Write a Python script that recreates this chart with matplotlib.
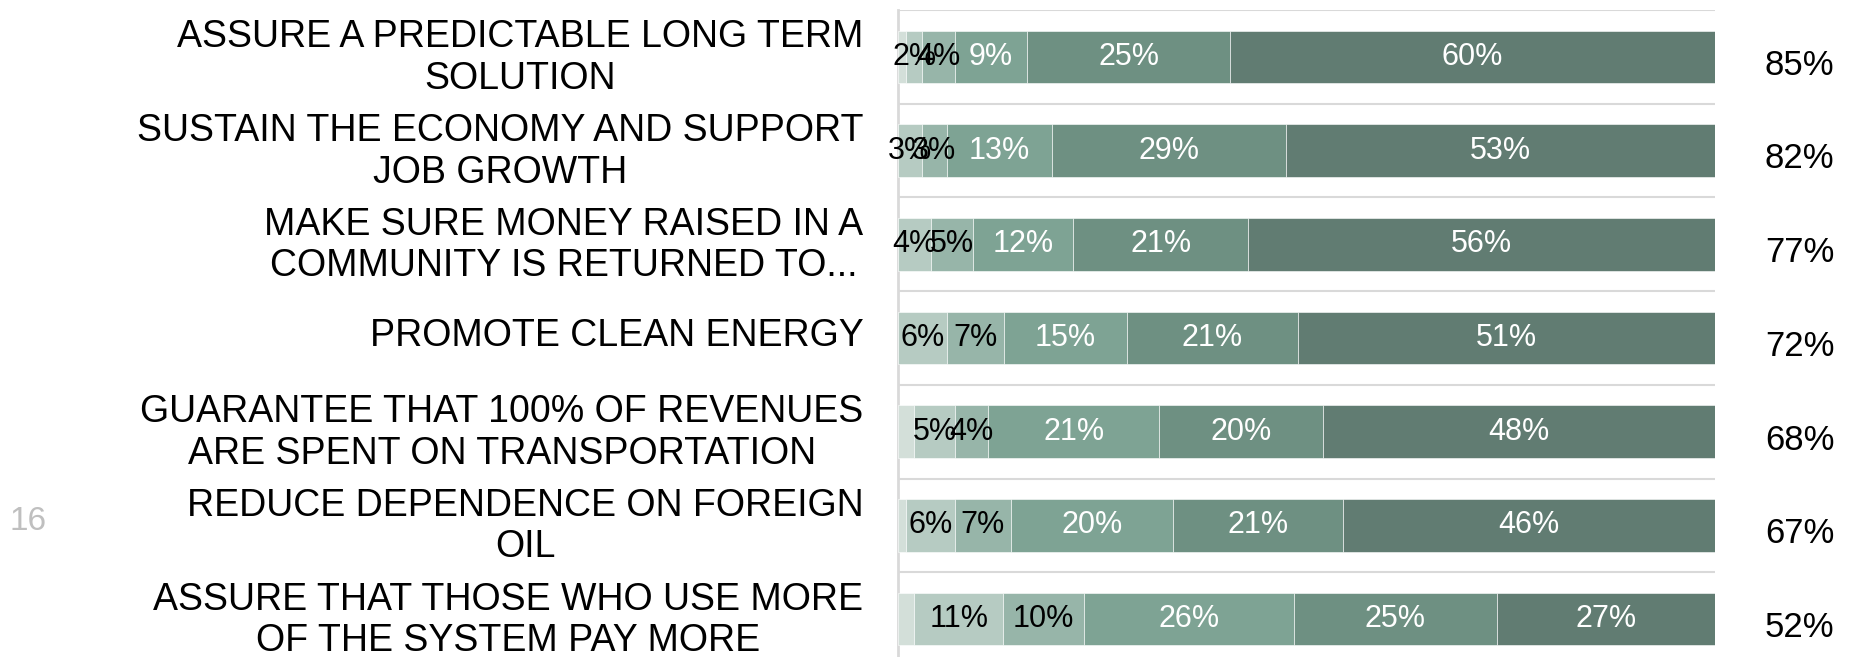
import numpy as np
import matplotlib
matplotlib.use("Agg")
import matplotlib.pyplot as plt
from matplotlib.transforms import ScaledTranslation

plt.rcParams['font.family'] = ['Liberation Sans', 'DejaVu Sans']

categories = [
    "ASSURE A PREDICTABLE LONG TERM\nSOLUTION",
    "SUSTAIN THE ECONOMY AND SUPPORT\nJOB GROWTH",
    "MAKE SURE MONEY RAISED IN A\nCOMMUNITY IS RETURNED TO...",
    "PROMOTE CLEAN ENERGY",
    "GUARANTEE THAT 100% OF REVENUES\nARE SPENT ON TRANSPORTATION",
    "REDUCE DEPENDENCE ON FOREIGN\nOIL",
    "ASSURE THAT THOSE WHO USE MORE\nOF THE SYSTEM PAY MORE",
]

# six response levels, lightest to darkest (first one has no label)
s_dk = [1, 0, 0, 0, 2, 1, 2]
s_1 = [2, 3, 4, 6, 5, 6, 11]
s_2 = [4, 3, 5, 7, 4, 7, 10]
s_3 = [9, 13, 12, 15, 21, 20, 26]
s_4 = [25, 29, 21, 21, 20, 21, 25]
s_5 = [60, 53, 56, 51, 48, 46, 27]

series = [s_dk, s_1, s_2, s_3, s_4, s_5]
colors = ['#d3dfd9', '#b6cbc2', '#97b5a9', '#7ea394', '#6e9082', '#617c72']
label_colors = [None, 'black', 'black', 'white', 'white', 'white']

data = np.array(series, dtype=float)
totals = data.sum(axis=0)
shares = data / totals * 100  # 100% stacked

fig = plt.figure(figsize=(18.55, 6.57), dpi=100)
ax = fig.add_axes([0.4841, -0.0137, 0.4404, 0.9985])

y = np.arange(len(categories))
left = np.zeros(len(categories))
for i, vals in enumerate(shares):
    ax.barh(y, vals, left=left, height=0.56, color=colors[i],
            edgecolor='white', linewidth=0.4, zorder=3)
    if label_colors[i] is not None:
        for j, v in enumerate(vals):
            ax.text(left[j] + v / 2, y[j], f"{int(series[i][j])}%",
                    ha='center', va='center', fontsize=22,
                    color=label_colors[i], zorder=4)
    left = left + vals

# top-2 totals on the right
for j in range(len(categories)):
    top2 = s_4[j] + s_5[j]
    ax.annotate(f"{top2}%", xy=(1, y[j]), xycoords=('axes fraction', 'data'),
                xytext=(36, -6), textcoords='offset points',
                ha='left', va='center', fontsize=25, color='black')

ax.set_xlim(0, 100)
ax.set_ylim(len(categories) - 0.5, -0.5)
ax.set_xticks([])
ax.set_yticks(y)
ax.set_yticklabels(categories, fontsize=27, ma='center')
ax.tick_params(axis='y', length=0, pad=25)
# nudge the category labels up a little
shift = ScaledTranslation(0, 4 / 72, fig.dpi_scale_trans)
for lbl in ax.get_yticklabels():
    lbl.set_transform(lbl.get_transform() + shift)
ax.set_yticks(np.arange(-0.5, len(categories), 1), minor=True)
ax.tick_params(axis='y', which='minor', length=0)
ax.grid(axis='y', which='minor', color='#d9d9d9', linewidth=1.5, zorder=0)
ax.grid(axis='y', which='major', visible=False)

for side in ['top', 'right', 'bottom']:
    ax.spines[side].set_visible(False)
ax.spines['left'].set_color('#d9d9d9')
ax.spines['left'].set_linewidth(2)

fig.text(28 / 1855, 1 - 522 / 657, "16", fontsize=24, color='#bfbfbf',
         ha='center', va='center')

fig.savefig("out.png", dpi=100)
